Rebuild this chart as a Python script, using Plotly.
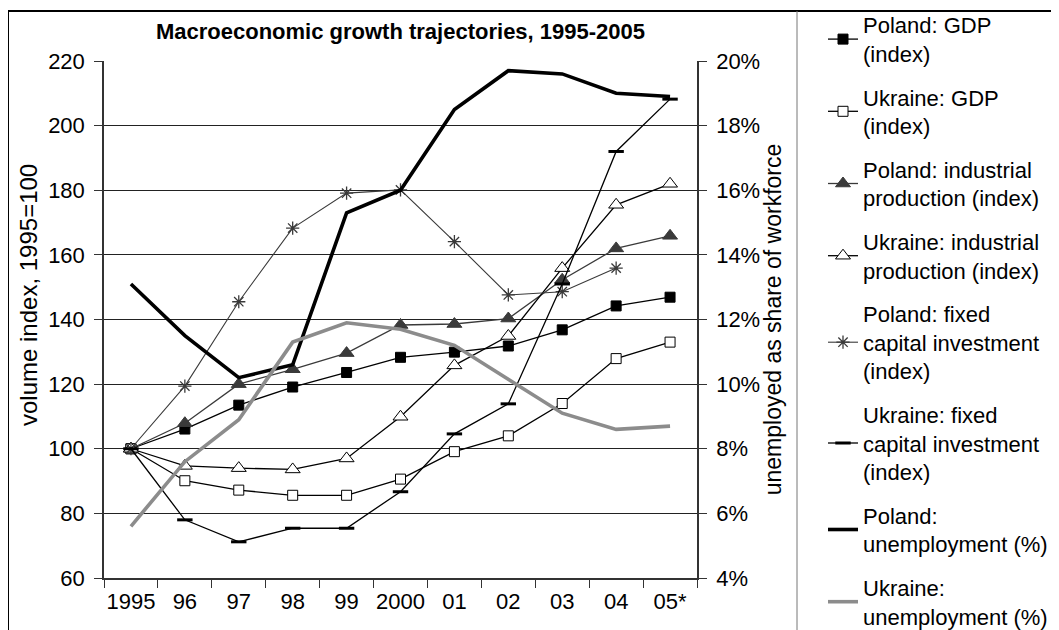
import plotly.graph_objects as go

years = ["1995", "96", "97", "98", "99", "2000", "01", "02", "03", "04", "05*"]

pl_gdp = [100, 106.1, 113.5, 119.1, 123.6, 128.3, 129.9, 131.8, 136.8, 144.2, 146.9]
ua_gdp = [100, 90.1, 87.2, 85.6, 85.6, 90.6, 99.1, 104.0, 114.0, 127.9, 133.0]
pl_ind = [100, 107.9, 120.0, 124.6, 129.6, 138.3, 138.6, 140.3, 152.3, 162.0, 165.9]
ua_ind = [100, 94.7, 94.0, 93.6, 97.0, 109.9, 125.8, 134.9, 155.9, 175.5, 182.0]
pl_inv = [100, 119.4, 145.5, 168.3, 179.1, 180.1, 164.1, 147.6, 148.6, 155.9, None]
ua_inv = [100, 78.0, 71.2, 75.4, 75.4, 86.7, 104.6, 113.9, 151.0, 192.0, 208.2]
pl_unemp = [13.1, 11.5, 10.2, 10.6, 15.3, 16.0, 18.5, 19.7, 19.6, 19.0, 18.9]
ua_unemp = [5.6, 7.6, 8.9, 11.3, 11.9, 11.7, 11.2, 10.15, 9.1, 8.6, 8.7]

FONT = "Liberation Sans, Arial, sans-serif"
# page body has an 8px margin, so the figure is drawn 8px in from the screen edge
OFF = 8
W, H = 1059 - OFF, 630 - OFF
# plot area in screen pixels
L, R, T, B = 104 - OFF, 697 - OFF, 61 - OFF, 578 - OFF

fig = go.Figure()


def add_line(y, name, color, width=1.3, symbol=None, mfill=None, msize=10,
             mline=1, axis="y"):
    marker = None
    mode = "lines"
    if symbol:
        mode = "lines+markers"
        marker = dict(symbol=symbol, size=msize, color=mfill or color,
                      line=dict(color=color, width=mline))
    fig.add_trace(go.Scatter(
        x=years, y=y, name=name, mode=mode, yaxis=axis,
        line=dict(color=color, width=width), marker=marker,
        legendgroup=name, connectgaps=False,
    ))


add_line(pl_gdp, "Poland: GDP<br>(index)", "black", symbol="square")
add_line(ua_gdp, "Ukraine: GDP<br>(index)", "black", symbol="square", mfill="white")
add_line(pl_ind, "Poland: industrial<br>production (index)", "#3a3a3a",
         symbol="triangle-up", msize=13)
add_line(ua_ind, "Ukraine: industrial<br>production (index)", "black",
         symbol="triangle-up", mfill="white", msize=13)
add_line(pl_inv, "Poland: fixed<br>capital investment<br>(index)", "#3a3a3a",
         width=1.1, symbol="asterisk-open", msize=11, mline=1.3)
add_line(ua_inv, "Ukraine: fixed<br>capital investment<br>(index)", "black",
         symbol="line-ew-open", msize=11, mline=3)
add_line(pl_unemp, "Poland:<br>unemployment (%)", "black", width=3.6, axis="y2")
add_line(ua_unemp, "Ukraine:<br>unemployment (%)", "#8c8c8c", width=3.6, axis="y2")

pw = R - L
ph = B - T


def px(xs):
    # screen x -> paper x
    return (xs - OFF - L) / pw


def py(ys):
    # screen y -> paper y
    return (B - (ys - OFF)) / ph


fig.update_layout(
    width=W, height=H,
    margin=dict(l=L, r=W - R, t=T, b=H - B, pad=0, autoexpand=False),
    paper_bgcolor="white", plot_bgcolor="white",
    font=dict(family=FONT, size=22, color="black"),
    title=dict(text="<b>Macroeconomic growth trajectories, 1995-2005</b>",
               x=0.5, xref="paper", xanchor="center",
               y=1 - (31 - OFF) / H, yref="container", yanchor="middle",
               font=dict(size=22, family=FONT)),
    xaxis=dict(type="category", range=[-0.5, 10.5], tickson="boundaries",
               ticks="outside", ticklen=8, tickcolor="#333", showgrid=False,
               showline=True, linecolor="#333", linewidth=1.5, tickangle=0,
               automargin=False, ticklabelstandoff=3,
               tickfont=dict(size=22), zeroline=False),
    yaxis=dict(range=[60, 220], dtick=20, ticks="outside", ticklen=8,
               tickcolor="#333", showline=True, linecolor="#333", linewidth=1.5,
               showgrid=True, gridcolor="#222", gridwidth=1, zeroline=False,
               automargin=False, ticklabelstandoff=5, tickfont=dict(size=22)),
    yaxis2=dict(range=[4, 20], dtick=2, ticksuffix="%", overlaying="y",
                side="right", ticks="outside", ticklen=8, tickcolor="#333",
                showline=True, linecolor="#333", linewidth=1.5, showgrid=False,
                zeroline=False, automargin=False, ticklabelstandoff=5,
                tickfont=dict(size=22),
                title=dict(text="unemployed as share of workforce", standoff=6,
                           font=dict(size=23))),
    annotations=[
        dict(text="volume index, 1995=100", textangle=-90, showarrow=False,
             xref="paper", yref="paper", x=px(28), y=py(295),
             xanchor="center", yanchor="middle", font=dict(size=24)),
    ],
    legend=dict(x=px(823), xanchor="left", y=py(4), yanchor="top",
                bgcolor="rgba(0,0,0,0)", borderwidth=0, tracegroupgap=12,
                font=dict(size=22, family=FONT), itemwidth=30, maxheight=700),
    showlegend=True,
    shapes=[
        dict(type="line", xref="paper", yref="paper", x0=px(8), x1=px(1080),
             y0=py(11), y1=py(11), line=dict(color="black", width=2)),
        dict(type="line", xref="paper", yref="paper", x0=px(8), x1=px(8),
             y0=py(11), y1=py(650), line=dict(color="black", width=2)),
        dict(type="line", xref="paper", yref="paper", x0=px(797), x1=px(797),
             y0=py(11), y1=py(650), line=dict(color="#777", width=1)),
    ],
)

fig.write_html("out.html")
